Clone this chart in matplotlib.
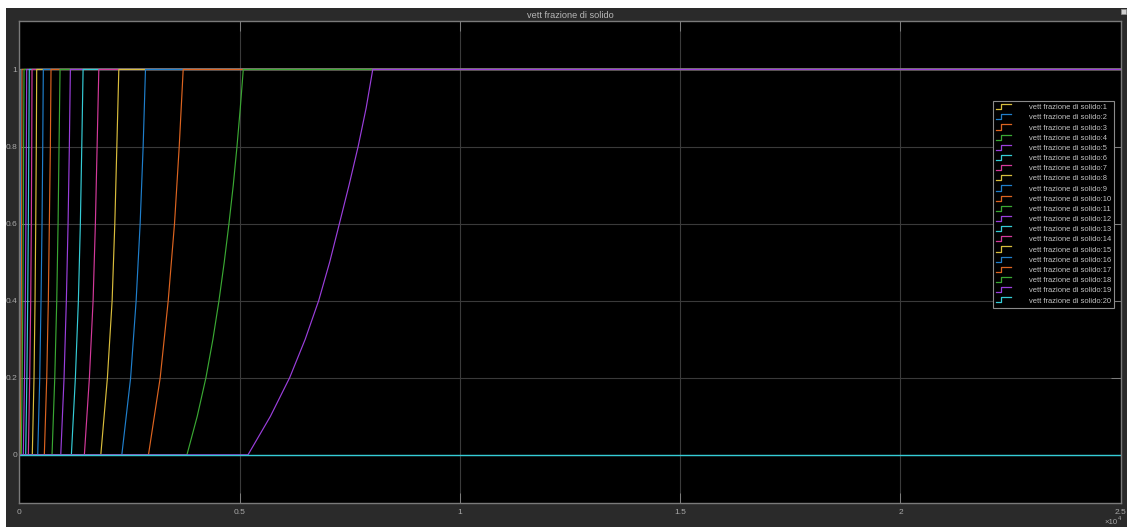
import matplotlib
matplotlib.use("Agg")
import matplotlib.pyplot as plt
from matplotlib.lines import Line2D
from matplotlib.legend_handler import HandlerBase
from matplotlib.patches import Rectangle

plt.rcParams['font.family'] = ['Liberation Sans', 'DejaVu Sans']

# ---- data ---------------------------------------------------------------
title_text = "vett frazione di solido"
series_labels = [f"vett frazione di solido:{i}" for i in range(1, 21)]

t_final = 25000.0

# solid fraction levels at which the ramp times are given
fill_levels = [0.0, 0.2, 0.4, 0.6, 0.8, 1.0]
fill_levels_fine = [0.0, 0.1, 0.2, 0.3, 0.4, 0.5, 0.6, 0.7, 0.8, 0.9, 1.0]

# time [s] at which each layer reaches the levels in fill_levels (layers 1..17)
ramp_times = [
    [0, 3, 6, 9, 12, 15],
    [6, 15, 22, 28, 33, 38],
    [20, 35, 45, 52, 57, 61],
    [45, 65, 80, 90, 98, 107],
    [91, 118, 136, 150, 160, 168],
    [145, 172, 191, 205, 216, 227],
    [205, 236, 259, 273, 282, 289],
    [295, 334, 357, 373, 386, 395],
    [418, 464, 493, 516, 532, 545],
    [568, 623, 659, 682, 705, 720],
    [743, 805, 850, 880, 902, 925],
    [941, 1016, 1068, 1107, 1136, 1159],
    [1182, 1273, 1341, 1386, 1418, 1448],
    [1477, 1591, 1675, 1727, 1766, 1805],
    [1850, 2000, 2107, 2168, 2214, 2259],
    [2327, 2527, 2652, 2743, 2811, 2864],
    [2932, 3198, 3380, 3523, 3630, 3720],
]
# layers 18 and 19 on the finer level grid
ramp_times_18 = [3805, 4039, 4236, 4395, 4532, 4652, 4759, 4857, 4941, 5016, 5084]
ramp_times_19 = [5191, 5700, 6136, 6490, 6795, 7045, 7266, 7485, 7691, 7873, 8023]
# layer 20 never starts solidifying
level_20 = 0.0

x_ticks = [0, 5000, 10000, 15000, 20000, 25000]
x_tick_labels = ["0", "0.5", "1", "1.5", "2", "2.5"]
y_ticks = [0, 0.2, 0.4, 0.6, 0.8, 1.0]
y_tick_labels = ["0", "0.2", "0.4", "0.6", "0.8", "1"]

line_colors = ["#d9bd3c", "#1f7fcc", "#dd6420", "#3aa833", "#9b3fdc", "#35ccd6", "#d43a9c"]

# ---- styling ------------------------------------------------------------
panel_color = "#2a2a2a"
text_color = "#a8a8a8"
spine_color = "#7a7a7a"
grid_color = "#3a3a3a"

W, H = 1127, 527
fig = plt.figure(figsize=(W / 100, H / 100), dpi=100, facecolor="white")

# dark scope panel
fig.patches.append(Rectangle((6 / W, 0), 1 - 6 / W, 1 - 8 / H, transform=fig.transFigure,
                             facecolor=panel_color, edgecolor="none", zorder=-10))
# small undock icon in the corner
fig.patches.append(Rectangle((1121 / W, 1 - 14 / H), 5 / W, 5 / H, transform=fig.transFigure,
                             facecolor="#d0d0d0", edgecolor="#909090", lw=0.5, zorder=5))

ax_left, ax_right = 19.3 / W, 1120.7 / W
ax_top, ax_bottom = 1 - 21.3 / H, 1 - 503 / H
ax = fig.add_axes([ax_left, ax_bottom, ax_right - ax_left, ax_top - ax_bottom])
ax.set_facecolor("black")

lw = 0.85
handles = []
for i, times in enumerate(ramp_times):
    xs = [0.0] + list(times) + [t_final]
    ys = [0.0] + list(fill_levels) + [1.0]
    h, = ax.plot(xs, ys, color=line_colors[i % 7], lw=lw)
    handles.append(h)
for j, times in ((17, ramp_times_18), (18, ramp_times_19)):
    xs = [0.0] + list(times) + [t_final]
    ys = [0.0] + list(fill_levels_fine) + [1.0]
    h, = ax.plot(xs, ys, color=line_colors[j % 7], lw=lw)
    handles.append(h)
h, = ax.plot([0.0, t_final], [level_20, level_20], color=line_colors[19 % 7], lw=1.0)
handles.append(h)

ax.set_xlim(0, t_final)
ax.set_ylim(-0.125, 1.125)
ax.set_xticks(x_ticks)
ax.set_xticklabels(x_tick_labels)
ax.set_yticks(y_ticks)
ax.set_yticklabels(y_tick_labels)
ax.grid(True, color=grid_color, lw=0.8)
ax.set_axisbelow(True)
ax.tick_params(axis="both", direction="in", length=7.5, width=0.6, color="#8a8a8a",
               labelsize=6.0, labelcolor=text_color, top=True, right=True)
ax.tick_params(axis="x", pad=4)
ax.tick_params(axis="y", pad=1.5)
for s in ax.spines.values():
    s.set_color(spine_color)
    s.set_linewidth(1.0)

ax.set_title(title_text, color="#b8b8b8", fontsize=6.6, pad=2.5)

# exponent label of the time axis
fig.text(1104 / W, 1 - 523 / H, "×10", color=text_color, fontsize=5.6, ha="left", va="center")
fig.text(1118 / W, 1 - 518.5 / H, "4", color=text_color, fontsize=4.2, ha="left", va="center")


class StepHandler(HandlerBase):
    def create_artists(self, legend, orig_handle, xdescent, ydescent, width, height,
                       fontsize, trans):
        x0, y0 = -xdescent, -ydescent
        xs = [x0, x0 + 0.32 * width, x0 + 0.32 * width, x0 + width]
        ys = [y0 + 0.05 * height, y0 + 0.05 * height, y0 + 0.95 * height, y0 + 0.95 * height]
        ln = Line2D(xs, ys, color=orig_handle.get_color(), lw=0.9)
        ln.set_transform(trans)
        return [ln]


leg = ax.legend(handles, series_labels, loc="upper left",
                bbox_to_anchor=(993.3 / W, 1 - 100.7 / H), bbox_transform=fig.transFigure,
                borderaxespad=0, fontsize=5.4, handlelength=2.0, handleheight=0.8,
                handletextpad=2.3, labelspacing=0.36, borderpad=0.4, fancybox=False,
                framealpha=1, facecolor="black", edgecolor="#8a8a8a",
                handler_map={Line2D: StepHandler()})
leg.get_frame().set_linewidth(0.8)
for t in leg.get_texts():
    t.set_color("#c4c4c4")

fig.savefig("out.png", dpi=100, facecolor=fig.get_facecolor())
